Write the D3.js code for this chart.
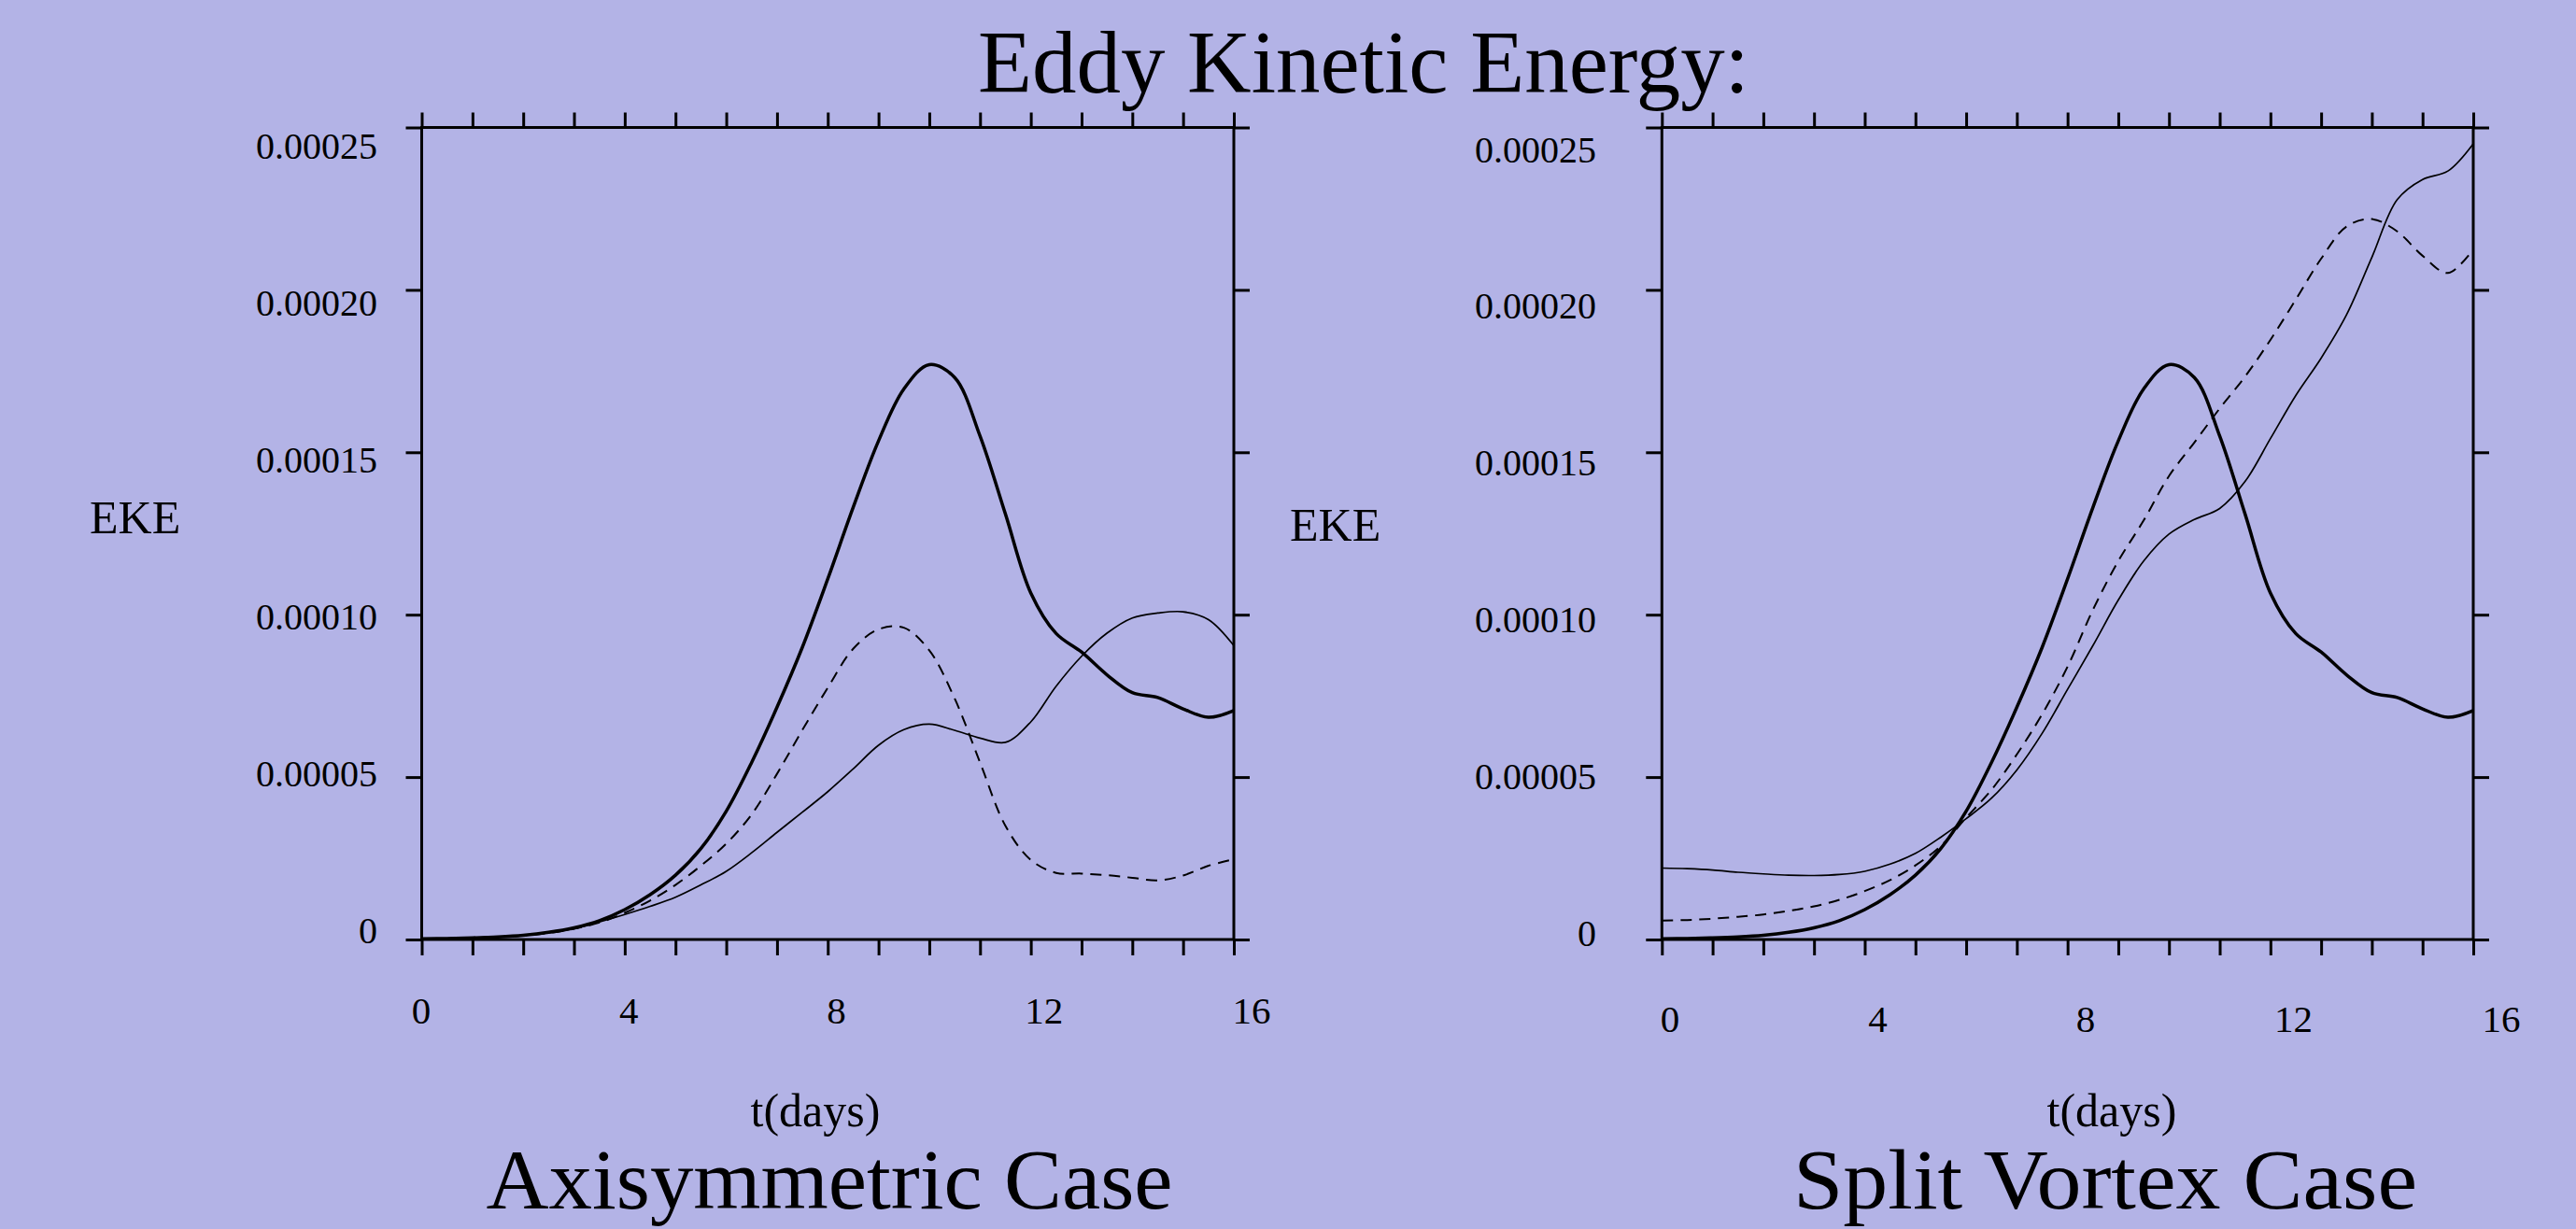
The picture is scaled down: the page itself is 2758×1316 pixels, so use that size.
<!DOCTYPE html>
<html>
<head>
<meta charset="utf-8">
<script src="https://cdn.jsdelivr.net/npm/d3@7"></script>
<style>
  html, body { margin: 0; padding: 0; background: #b3b3e6; }
  svg { display: block; }
  text { font-family: "Liberation Serif", "Times New Roman", serif; fill: #000; }
</style>
</head>
<body>
<svg id="chart" width="2758" height="1316"></svg>
<script>
// time axis, days
const days = [0, 0.5, 1, 1.5, 2, 2.5, 3, 3.5, 4, 4.5, 5, 5.5, 6, 6.5, 7, 7.5,
  8, 8.5, 9, 9.5, 10, 10.5, 11, 11.5, 12, 12.5, 13, 13.5, 14, 14.5, 15, 15.5, 16];

// EKE values in units of 1e-5
// thick curve, same in both panels
const controlEKE = [0.02, 0.03, 0.05, 0.08, 0.13, 0.22, 0.36, 0.58, 0.92, 1.38, 1.98, 2.8, 3.95, 5.45, 7.15, 9.0,
  11.1, 13.3, 15.35, 16.95, 17.7, 17.3, 15.5, 13.1, 10.67, 9.42, 8.85, 8.15, 7.6, 7.45, 7.1, 6.84, 7.05];

const axisymDashed = [0.02, 0.03, 0.05, 0.08, 0.12, 0.2, 0.33, 0.52, 0.82, 1.2, 1.68, 2.27, 2.95, 3.85, 5.1, 6.45,
  7.75, 8.95, 9.55, 9.6, 8.9, 7.42, 5.45, 3.5, 2.45, 2.05, 2.03, 1.98, 1.9, 1.82, 1.97, 2.27, 2.47];

const axisymThin = [0.02, 0.03, 0.05, 0.08, 0.12, 0.21, 0.33, 0.54, 0.77, 1.02, 1.3, 1.68, 2.1, 2.67, 3.3, 3.92,
  4.55, 5.25, 5.98, 6.46, 6.63, 6.44, 6.2, 6.07, 6.7, 7.8, 8.72, 9.43, 9.9, 10.05, 10.09, 9.85, 9.05];

const splitDashed = [0.58, 0.6, 0.64, 0.7, 0.77, 0.88, 1.02, 1.22, 1.49, 1.83, 2.28, 2.88, 3.75, 4.61, 5.7, 6.94,
  8.4, 10.15, 11.65, 12.9, 14.27, 15.3, 16.35, 17.33, 18.46, 19.7, 20.96, 21.95, 22.18, 21.8, 21.05, 20.52, 21.25];

const splitThin = [2.2, 2.18, 2.14, 2.07, 2.02, 1.98, 1.97, 2.0, 2.1, 2.32, 2.65, 3.15, 3.72, 4.35, 5.22, 6.35,
  7.7, 9.05, 10.45, 11.65, 12.48, 12.93, 13.27, 14.1, 15.42, 16.75, 17.9, 19.23, 21.0, 22.78, 23.4, 23.66, 24.5];

const xTicks = d3.range(0, 17);
const xTickLabels = [0, 4, 8, 12, 16];
const yTicks = [0, 5, 10, 15, 20, 25];
const yTickLabels = ['0', '0.00005', '0.00010', '0.00015', '0.00020', '0.00025'];

const mainTitle = 'Eddy Kinetic Energy:';
const yTitle = 'EKE';
const xTitle = 't(days)';

const panels = [
  {
    name: 'Axisymmetric Case', dashed: axisymDashed, thin: axisymThin,
    x0: 451.5, x1: 1321, yLabRight: 404, yLabRange: [996, 156],
    xLabRange: [451, 1340], xLabBase: 1096,
    eke: [96, 571], tdays: [873, 1206], name_: [888, 1294, 735]
  },
  {
    name: 'Split Vortex Case', dashed: splitDashed, thin: splitThin,
    x0: 1779.3, x1: 2648, yLabRight: 1709, yLabRange: [999, 160],
    xLabRange: [1788, 2678], xLabBase: 1105,
    eke: [1381, 579], tdays: [2261, 1206], name_: [2254, 1294, 668]
  }
];

const svg = d3.select('#chart');
svg.append('rect').attr('width', 2758).attr('height', 1316).attr('fill', '#b3b3e6');

svg.append('text')
  .attr('x', 1460).attr('y', 99)
  .attr('text-anchor', 'middle')
  .attr('font-size', 95)
  .attr('textLength', 826).attr('lengthAdjust', 'spacingAndGlyphs')
  .text(mainTitle);

const y = d3.scaleLinear().domain([0, 25]).range([1006, 136.5]);

panels.forEach(p => {
  const x = d3.scaleLinear().domain([0, 16]).range([p.x0, p.x1]);
  const xLab = d3.scaleLinear().domain([0, 16]).range(p.xLabRange);
  const yLab = d3.scaleLinear().domain([0, 25]).range(p.yLabRange);
  const g = svg.append('g');

  const line = (vals) => d3.line()
    .x((d, i) => x(days[i]))
    .y(d => y(d))
    .curve(d3.curveCatmullRom.alpha(0.5))(vals);

  // curves
  g.append('path').attr('d', line(p.thin))
    .attr('fill', 'none').attr('stroke', '#000').attr('stroke-width', 1.7);
  g.append('path').attr('d', line(p.dashed))
    .attr('fill', 'none').attr('stroke', '#000').attr('stroke-width', 2)
    .attr('stroke-dasharray', '12,8');
  g.append('path').attr('d', line(controlEKE))
    .attr('fill', 'none').attr('stroke', '#000').attr('stroke-width', 3.5)
    .attr('stroke-linejoin', 'round');

  // ticks on all four sides, pointing out
  const tickStyle = sel => {
    sel.select('.domain').remove();
    sel.selectAll('line').attr('stroke', '#000').attr('stroke-width', 3);
  };
  g.append('g').attr('transform', `translate(0,${y(0)})`)
    .call(d3.axisBottom(x).tickValues(xTicks).tickSize(17).tickFormat('')).call(tickStyle);
  g.append('g').attr('transform', `translate(0,${y(25)})`)
    .call(d3.axisTop(x).tickValues(xTicks).tickSize(16).tickFormat('')).call(tickStyle);
  g.append('g').attr('transform', `translate(${x(0)},0)`)
    .call(d3.axisLeft(y).tickValues(yTicks).tickSize(17).tickFormat('')).call(tickStyle);
  g.append('g').attr('transform', `translate(${x(16)},0)`)
    .call(d3.axisRight(y).tickValues(yTicks).tickSize(17).tickFormat('')).call(tickStyle);

  g.append('rect')
    .attr('x', x(0)).attr('y', y(25))
    .attr('width', x(16) - x(0)).attr('height', y(0) - y(25))
    .attr('fill', 'none').attr('stroke', '#000').attr('stroke-width', 3);

  // tick labels
  g.selectAll('.ylab').data(yTicks).join('text')
    .attr('class', 'ylab')
    .attr('x', p.yLabRight).attr('y', d => yLab(d))
    .attr('dy', '0.34em')
    .attr('text-anchor', 'end').attr('font-size', 40)
    .text((d, i) => yTickLabels[i]);

  g.selectAll('.xlab').data(xTickLabels).join('text')
    .attr('class', 'xlab')
    .attr('x', d => xLab(d)).attr('y', p.xLabBase)
    .attr('text-anchor', 'middle').attr('font-size', 41)
    .text(d => d);

  g.append('text').attr('x', p.eke[0]).attr('y', p.eke[1])
    .attr('font-size', 50).text(yTitle);

  g.append('text').attr('x', p.tdays[0]).attr('y', p.tdays[1])
    .attr('text-anchor', 'middle').attr('font-size', 50).text(xTitle);

  g.append('text').attr('x', p.name_[0]).attr('y', p.name_[1])
    .attr('text-anchor', 'middle').attr('font-size', 92)
    .attr('textLength', p.name_[2]).attr('lengthAdjust', 'spacingAndGlyphs')
    .text(p.name);
});
</script>
</body>
</html>
